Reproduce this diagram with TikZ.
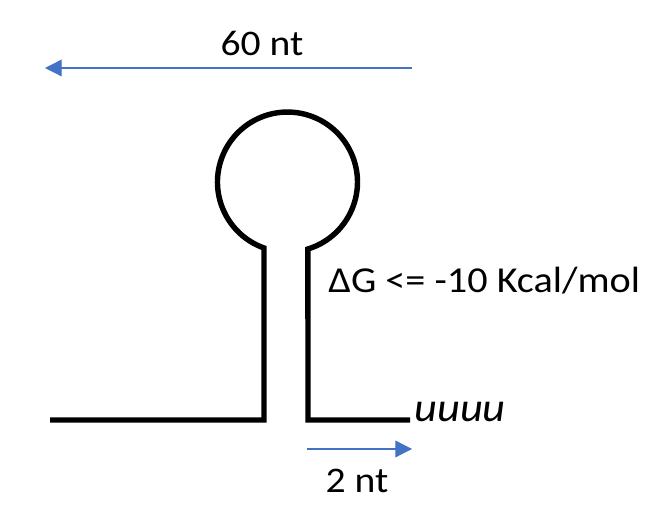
\documentclass[tikz,border=0pt]{standalone}
\usepackage{fontspec}
\setmainfont{Carlito}[FakeStretch=1.1]
\usetikzlibrary{arrows.meta,positioning}
\definecolor{arrowblue}{HTML}{4472C4}
\tikzset{
  strand/.style={line width=3.1pt,line join=miter,line cap=butt},
  span/.style={arrowblue,line width=0.75pt,-{Triangle[length=9.5pt,width=9.5pt]}},
  lab/.style={font=\fontsize{20.5}{24}\selectfont,inner sep=0pt}
}
\begin{document}
\begin{tikzpicture}[x=0.02cm,y=0.02cm]
  \useasboundingbox (0,0) rectangle (652,516);
  \coordinate (tail5) at (50,96);
  \coordinate (stemL) at (264,96);
  \coordinate (loopL) at (264,268);
  \coordinate (stemR) at (308,96);
  \coordinate (tail3) at (410,96);
  \draw[strand] (tail5) -- (stemL) -- (loopL) arc[start angle=250.4,end angle=-73,radius=70] -- (stemR) -- (tail3);
  \node[lab,font=\fontsize{23}{26}\selectfont\itshape,anchor=base west] (polyu) at (414,94) {uuuu};
  \node[lab,font=\fontsize{20.8}{24}\selectfont,anchor=base west] (dg) at (328,223) {ΔG <= -10 Kcal/mol};
  \coordinate (loopA) at (412,448);
  \coordinate (loopB) at (45,448);
  \draw[span] (loopA) -- (loopB);
  \node[lab,anchor=base] (lenloop) at (262,460) {60 nt};
  \coordinate (tailA) at (307,67);
  \coordinate (tailB) at (412,67);
  \draw[span] (tailA) -- (tailB);
  \node[lab,anchor=base] (lentail) at (357,23) {2 nt};
\end{tikzpicture}
\end{document}
